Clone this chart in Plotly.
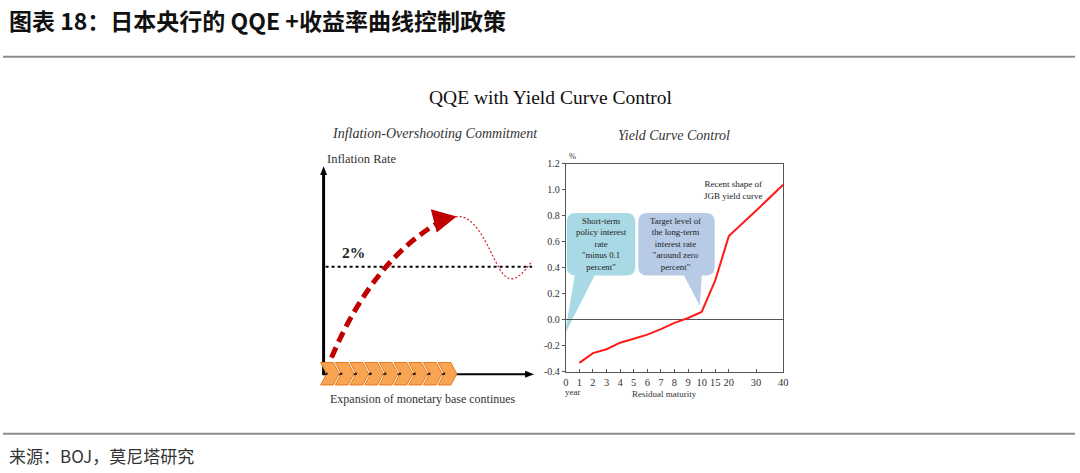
import plotly.graph_objects as go

# ---- data ----
maturities = [1, 2, 3, 4, 5, 6, 7, 8, 9, 10, 15, 20, 30, 40]
yields = [-0.33, -0.255, -0.225, -0.175, -0.145, -0.113, -0.07, -0.022, 0.015, 0.062, 0.305, 0.645, 0.84, 1.04]
tick_maturities = [0, 1, 2, 3, 4, 5, 6, 7, 8, 9, 10, 15, 20, 30, 40]
tick_labels = [str(t) for t in tick_maturities]
y_ticks = [-0.4, -0.2, 0.0, 0.2, 0.4, 0.6, 0.8, 1.0, 1.2]
y_tick_labels = ["-0.4", "-0.2", "0.0", "0.2", "0.4", "0.6", "0.8", "1.0", "1.2"]


def mpos(m):
    # compressed residual-maturity scale used by the BOJ chart
    return m if m <= 10 else 10 + (m - 10) / 5.0


W, H = 1080, 473
SERIF = "Liberation Serif, Times New Roman, serif"
CJK = "Noto Sans CJK SC"


def X(v):
    return round(v / W, 5)


def Y(v):
    return round(1 - v / H, 5)


def P(pts_cmds):
    out = []
    for cmd, pts in pts_cmds:
        coords = " ".join(f"{X(a)},{Y(b)}" for a, b in pts)
        out.append(f"{cmd} {coords}".strip())
    return " ".join(out)


fig = go.Figure()

# yield curve
fig.add_trace(go.Scatter(
    x=[mpos(m) for m in maturities], y=yields, mode="lines",
    line=dict(color="#ff1a1a", width=2), hoverinfo="skip", showlegend=False))

shapes = []
annotations = []


def pshape(path, fill=None, line=None, layer="above"):
    d = dict(type="path", xref="paper", yref="paper", path=path, layer=layer,
             line=line if line else dict(width=0))
    if fill:
        d["fillcolor"] = fill
    shapes.append(d)


def pline(x0, y0, x1, y1, color, width, dash="solid"):
    shapes.append(dict(type="line", xref="paper", yref="paper",
                       x0=X(x0), x1=X(x1), y0=Y(y0), y1=Y(y1),
                       line=dict(color=color, width=width, dash=dash)))


# page rules
pline(0, 53, W, 53, "#8c8c8c", 2)
pline(0, 439, W, 439, "#8c8c8c", 2)


def rounded_callout(x0, y0, x1, y1, r, tx0, tx1, px, py):
    return P([("M", [(x0 + r, y0)]), ("L", [(x1 - r, y0)]), ("Q", [(x1, y0), (x1, y0 + r)]),
              ("L", [(x1, y1 - r)]), ("Q", [(x1, y1), (x1 - r, y1)]), ("L", [(tx1, y1)]),
              ("L", [(px, py)]), ("L", [(tx0, y1)]), ("L", [(x0 + r, y1)]),
              ("Q", [(x0, y1), (x0, y1 - r)]), ("L", [(x0, y0 + r)]),
              ("Q", [(x0, y0), (x0 + r, y0)]), ("Z", [])])


pshape(rounded_callout(568, 213, 637, 277, 9, 576, 596, 566, 337), fill="#a9d9e4", layer="below")
pshape(rounded_callout(640, 213, 717, 277, 9, 686, 704, 702, 308), fill="#b7cbe6", layer="below")

# ---- left schematic ----
pline(323, 378, 528, 378, "#000", 2)
pshape(P([("M", [(535, 378)]), ("L", [(526, 374.5)]), ("L", [(526, 381.5)]), ("Z", [])]), fill="#000")
pline(323, 379, 323, 172, "#000", 3)
pshape(P([("M", [(323, 165)]), ("L", [(319.5, 174)]), ("L", [(326.5, 174)]), ("Z", [])]), fill="#000")
pline(325, 268, 533, 268, "#000", 2, "dot")
pshape(P([("M", [(456, 217)]), ("C", [(474, 213), (486, 242), (497, 264)]),
          ("C", [(506, 282), (514, 290), (533, 262)])]),
       line=dict(color="#d0202a", width=1.2, dash="2px,2px"))
pshape(P([("M", [(331, 361)]), ("Q", [(372, 262), (440, 222)])]),
       line=dict(color="#c00000", width=5, dash="11px,6px"))
pshape(P([("M", [(457, 216.5)]), ("L", [(431, 209)]), ("L", [(437, 233)]), ("Z", [])]), fill="#c00000")

cw, cd, ctop, cbot = 14.8, 6, 366, 389
cmid = (ctop + cbot) / 2
for i in range(9):
    x = 320 + i * cw
    pshape(P([("M", [(x, ctop)]), ("L", [(x + cw - cd + 4, ctop)]), ("L", [(x + cw + 4, cmid)]),
              ("L", [(x + cw - cd + 4, cbot)]), ("L", [(x, cbot)]), ("L", [(x + cd, cmid)]), ("Z", [])]),
           fill="#f8a452", line=dict(color="#e97a1c", width=1))
    shapes.append(dict(type="circle", xref="paper", yref="paper",
                       x0=X(x + cd - 1.2), x1=X(x + cd + 1.2), y0=Y(cmid + 1.2), y1=Y(cmid - 1.2),
                       fillcolor="#222", line=dict(width=0)))


def txt(x, y, s, size, color="#222", family=SERIF, xanchor="center", bold=False, italic=False):
    if bold:
        s = f"<b>{s}</b>"
    if italic:
        s = f"<i>{s}</i>"
    annotations.append(dict(x=X(x), y=Y(y), xref="paper", yref="paper", text=s, showarrow=False,
                            xanchor=xanchor, yanchor="middle",
                            font=dict(size=size, color=color, family=family)))


txt(4, 15, "图表 18：日本央行的 QQE +收益率曲线控制政策", 23, color="#111", family=CJK,
    xanchor="left", bold=True)
txt(4, 461, "来源：BOJ，莫尼塔研究", 17, color="#333", family=CJK, xanchor="left")
txt(552, 95, "QQE with Yield Curve Control", 19.5, color="#111")
txt(435, 132, "Inflation-Overshooting Commitment", 14, color="#333", italic=True)
txt(676, 134, "Yield Curve Control", 14, color="#333", italic=True)
txt(362, 158, "Inflation Rate", 12.5, color="#333")
txt(353, 253, "2%", 15.5, color="#222", bold=True)
txt(423, 403, "Expansion of monetary base continues", 12, color="#333")

txt(574, 155, "%", 8.5, color="#333")
txt(574, 396, "year", 9, color="#333")
txt(666, 398, "Residual maturity", 9, color="#333")
txt(736, 189, "Recent shape of<br>JGB yield curve", 9, color="#222")
txt(603, 245, "Short-term<br>policy interest<br>rate<br>\"minus 0.1<br>percent\"", 8.8, color="#222")
txt(678, 245, "Target level of<br>the long-term<br>interest rate<br>\"around zero<br>percent\"", 8.8, color="#222")

fig.update_layout(
    width=W, height=H, margin=dict(l=0, r=0, t=0, b=0),
    paper_bgcolor="white", plot_bgcolor="rgba(0,0,0,0)",
    showlegend=False, shapes=shapes, annotations=annotations,
    xaxis=dict(domain=[567 / W, 786 / W], range=[0, 16],
               tickvals=[mpos(t) for t in tick_maturities], ticktext=tick_labels,
               ticks="inside", ticklen=3, tickcolor="#555",
               showline=True, linecolor="#555", linewidth=1, mirror=True,
               showgrid=False, zeroline=False,
               tickfont=dict(family=SERIF, size=10.5, color="#333")),
    yaxis=dict(domain=[1 - 375.7 / H, 1 - 162.7 / H], range=[-0.4, 1.2],
               tickvals=y_ticks, ticktext=y_tick_labels,
               ticks="outside", ticklen=3, tickcolor="#555",
               showline=True, linecolor="#555", linewidth=1, mirror=True,
               showgrid=False, zeroline=True, zerolinecolor="#555", zerolinewidth=1,
               tickfont=dict(family=SERIF, size=10, color="#333")),
)

fig.write_html("out.html", config={"displayModeBar": False},
               post_script="document.body.style.margin='0';")
